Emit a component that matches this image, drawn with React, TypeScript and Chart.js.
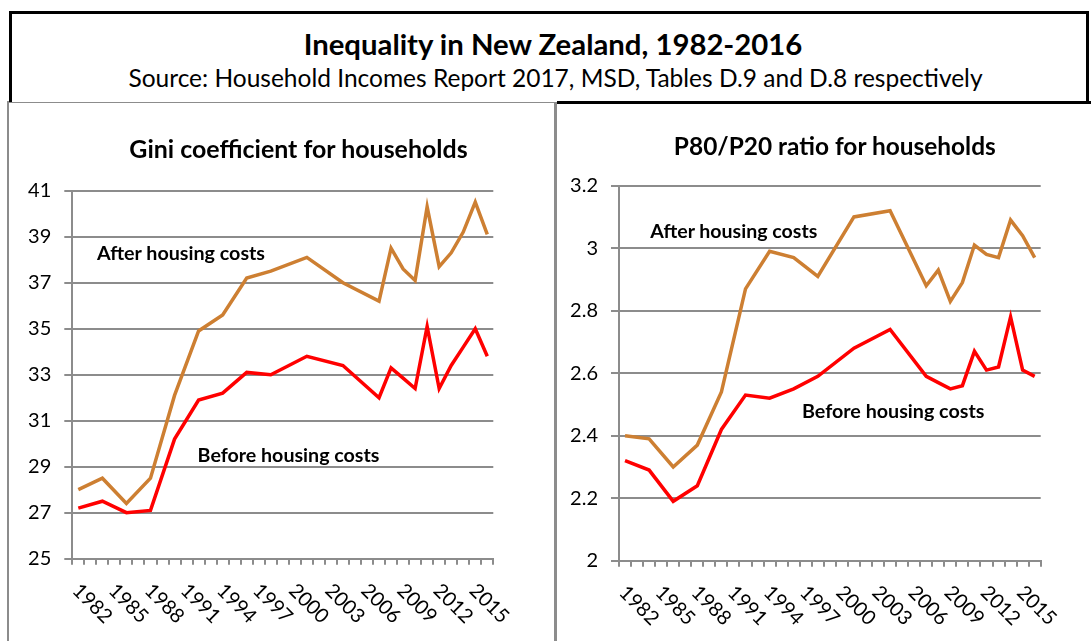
import React, { useEffect, useRef } from 'react';
import { Chart, registerables } from 'chart.js';

Chart.register(...registerables);

// ---------- data ----------
const CATEGORIES = [
  '1982', '1983', '1984', '1985', '1986', '1987', '1988', '1989', '1990', '1991',
  '1992', '1993', '1994', '1995', '1996', '1997', '1998', '1999', '2000', '2001',
  '2002', '2003', '2004', '2005', '2006', '2007', '2008', '2009', '2010', '2011',
  '2012', '2013', '2014', '2015', '2016',
];
const X_TICK_LABELS = ['1982', '1985', '1988', '1991', '1994', '1997', '2000', '2003', '2006', '2009', '2012', '2015'];
const SURVEY_YEARS = [
  '1982', '1984', '1986', '1988', '1990', '1992', '1994', '1996', '1998', '2001', '2004',
  '2007', '2008', '2009', '2010', '2011', '2012', '2013', '2014', '2015', '2016',
];
const GINI_AHC = [28.0, 28.5, 27.4, 28.5, 32.1, 34.9, 35.6, 37.2, 37.5, 38.1, 37.0, 36.2, 38.5, 37.6, 37.1, 40.3, 37.7, 38.3, 39.2, 40.5, 39.1];
const GINI_BHC = [27.2, 27.5, 27.0, 27.1, 30.2, 31.9, 32.2, 33.1, 33.0, 33.8, 33.4, 32.0, 33.3, 32.85, 32.4, 35.1, 32.4, 33.4, 34.2, 35.0, 33.8];
const P8020_AHC = [2.40, 2.39, 2.30, 2.37, 2.54, 2.87, 2.99, 2.97, 2.91, 3.10, 3.12, 2.88, 2.93, 2.83, 2.89, 3.01, 2.98, 2.97, 3.09, 3.04, 2.97];
const P8020_BHC = [2.32, 2.29, 2.19, 2.24, 2.42, 2.53, 2.52, 2.55, 2.59, 2.68, 2.74, 2.59, 2.57, 2.55, 2.56, 2.67, 2.61, 2.62, 2.78, 2.61, 2.59];

const TITLE = 'Inequality in New Zealand, 1982-2016';
const SUBTITLE = 'Source: Household Incomes Report 2017, MSD, Tables D.9 and D.8 respectively';
const GINI_TITLE = 'Gini coefficient for households';
const P8020_TITLE = 'P80/P20 ratio for households';
const AHC_LABEL = 'After housing costs';
const BHC_LABEL = 'Before housing costs';

// ---------- style ----------
const FONT = 'Lato, "Open Sans", sans-serif';
const ORANGE = 'rgb(205,127,50)';
const RED = '#ff0000';
const GRID = '#8c8c8c';

function fitSize(text: string, weight: string, target: number): number {
  const c = document.createElement('canvas').getContext('2d');
  if (!c) return 18;
  c.font = `${weight} 100px ${FONT}`;
  const w = c.measureText(text).width;
  return (100 * target) / w;
}

const xLabelPlugin = {
  id: 'xLabelsRotated',
  afterDraw(chart: any) {
    const xs = chart.scales.x;
    const ctx = chart.ctx;
    ctx.save();
    ctx.font = `20px ${FONT}`;
    ctx.fillStyle = '#000';
    ctx.textAlign = 'left';
    ctx.textBaseline = 'alphabetic';
    X_TICK_LABELS.forEach((lbl) => {
      const idx = CATEGORIES.indexOf(lbl);
      const x = xs.getPixelForValue(idx);
      ctx.save();
      ctx.translate(x - 7, xs.top + 33);
      ctx.rotate(Math.PI / 4);
      ctx.fillText(lbl, 0, 0);
      ctx.restore();
    });
    ctx.restore();
  },
};

function makeConfig(ahc: number[], bhc: number[], yMin: number, yMax: number, yStep: number, lay: any) {
  return {
    type: 'line',
    data: {
      labels: CATEGORIES,
      datasets: [
        {
          data: SURVEY_YEARS.map((yr, i) => ({ x: yr, y: ahc[i] })),
          borderColor: ORANGE,
          borderWidth: 3.5,
          pointRadius: 0,
          tension: 0,
          fill: false,
        },
        {
          data: SURVEY_YEARS.map((yr, i) => ({ x: yr, y: bhc[i] })),
          borderColor: RED,
          borderWidth: 3.5,
          pointRadius: 0,
          tension: 0,
          fill: false,
        },
      ],
    },
    options: {
      responsive: false,
      animation: false,
      events: [],
      layout: { padding: { top: lay.top, right: lay.right, left: 0, bottom: 0 } },
      plugins: { legend: { display: false }, tooltip: { enabled: false }, title: { display: false } },
      scales: {
        x: {
          type: 'category',
          offset: true,
          grid: { offset: true, drawOnChartArea: false, drawTicks: true, tickLength: 6, color: GRID, lineWidth: 2 },
          border: { display: true, color: GRID, width: 2 },
          ticks: { display: false, autoSkip: false },
          afterFit: (s: any) => { s.height = lay.xh; },
        },
        y: {
          min: yMin,
          max: yMax,
          ticks: {
            stepSize: yStep,
            padding: 13,
            color: '#000',
            font: { family: FONT, size: 20 },
            callback: (v: any) => String(+(+v).toFixed(2)),
          },
          grid: { color: GRID, lineWidth: 2, tickLength: 8, drawTicks: true },
          border: { display: true, color: GRID, width: 2 },
          afterFit: (s: any) => { s.width = lay.yw; },
        },
      },
    },
    plugins: [xLabelPlugin],
  };
}

function ChartCanvas(props: { cfg: any; left: number; top: number; w: number; h: number }) {
  const ref = useRef<HTMLCanvasElement | null>(null);
  useEffect(() => {
    if (!ref.current) return;
    const chart = new Chart(ref.current, props.cfg);
    return () => chart.destroy();
  }, []);
  return (
    <canvas
      ref={ref}
      width={props.w}
      height={props.h}
      style={{ position: 'absolute', left: props.left, top: props.top, width: props.w, height: props.h }}
    />
  );
}

function Label(props: { text: string; cx?: number; x?: number; cy: number; w: number; bold?: boolean }) {
  const weight = props.bold ? 'bold' : 'normal';
  const size = fitSize(props.text, weight, props.w);
  const style: any = {
    position: 'absolute',
    top: props.cy,
    whiteSpace: 'nowrap',
    fontFamily: FONT,
    fontWeight: weight,
    fontSize: size,
    lineHeight: 1,
    color: '#000',
  };
  if (props.cx !== undefined) {
    style.left = props.cx;
    style.transform = 'translate(-50%, -50%)';
  } else {
    style.left = props.x;
    style.transform = 'translateY(-50%)';
  }
  return <div style={style}>{props.text}</div>;
}

export default function App() {
  const giniCfg = makeConfig(GINI_AHC, GINI_BHC, 25, 41, 2, { top: 84.7, right: 56.7, xh: 77.3, yw: 62.3 });
  const p80Cfg = makeConfig(P8020_AHC, P8020_BHC, 2, 3.2, 0.2, { top: 79.7, right: 47.3, xh: 75.3, yw: 61 });
  return (
    <div
      style={{
        position: 'fixed',
        left: 0,
        top: 0,
        width: 1091,
        height: 641,
        background: '#fff',
        overflow: 'hidden',
        fontFamily: FONT,
      }}
    >
      {/* panels */}
      <div style={{ position: 'absolute', left: 7, top: 101, width: 549, height: 560, border: `2px solid ${GRID}`, boxSizing: 'border-box' }} />
      <div style={{ position: 'absolute', left: 555, top: 101, width: 560, height: 560, border: `2px solid ${GRID}`, boxSizing: 'border-box' }} />
      {/* title box */}
      <div
        style={{
          position: 'absolute',
          left: 9,
          top: 11,
          width: 1080,
          height: 91,
          borderTop: '3px solid #000',
          borderLeft: '3px solid #000',
          borderRight: '3px solid #000',
          boxSizing: 'border-box',
          background: '#fff',
        }}
      />
      <div style={{ position: 'absolute', left: 557, top: 101, width: 540, height: 3, background: '#000' }} />

      <ChartCanvas cfg={giniCfg} left={10} top={106} w={540} h={530} />
      <ChartCanvas cfg={p80Cfg} left={558} top={106} w={530} h={530} />

      <Label text={TITLE} cx={553} cy={44} w={500} bold />
      <Label text={SUBTITLE} cx={555.5} cy={78} w={855} />
      <Label text={GINI_TITLE} cx={298.5} cy={148} w={339} bold />
      <Label text={P8020_TITLE} cx={834.8} cy={146} w={322.5} bold />
      <Label text={AHC_LABEL} x={97} cy={253} w={168.6} bold />
      <Label text={BHC_LABEL} x={197.6} cy={455} w={182} bold />
      <Label text={AHC_LABEL} x={650.3} cy={231} w={167.5} bold />
      <Label text={BHC_LABEL} x={802} cy={411} w={182.5} bold />
    </div>
  );
}
